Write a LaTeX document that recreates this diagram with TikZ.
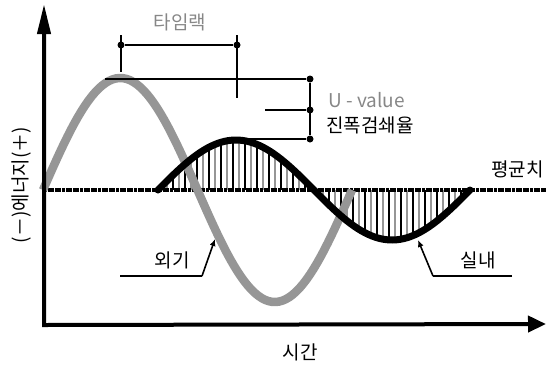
\documentclass[tikz,border=0pt]{standalone}
\usepackage{fontspec}
\newfontfamily\krfont{Noto Sans CJK KR}
\usetikzlibrary{arrows.meta,positioning}
\definecolor{airgray}{RGB}{150,150,150}
\definecolor{textgray}{RGB}{135,135,135}

\tikzset{
  lbl/.style={font=\krfont\fontsize{19}{21}\selectfont,inner sep=1pt},
  dot/.style={circle,fill=black,inner sep=0pt,minimum size=7pt},
  guide/.style={line width=2pt},
  pointer/.style={line width=1.6pt,-{Latex[length=7pt,width=6pt]}},
}

\begin{document}
\begin{tikzpicture}[x=1pt,y=-1pt]
  \useasboundingbox (0,0) rectangle (546,365);

  %% hatching between indoor curve and mean line
  \foreach \i in {0,...,51}{
    \pgfmathsetmacro{\hx}{161+6*\i}
    \pgfmathsetmacro{\hy}{190-50*sin((\hx-158)/312*360)}
    \pgfmathparse{mod(\i,2)==0 ? "black" : "airgray"}
    \edef\hcol{\pgfmathresult}
    \draw[\hcol,line width=1.5pt] (\hx,190) -- (\hx,\hy);
  }

  %% mean line
  \coordinate (mL) at (44,190);
  \coordinate (mR) at (546,190);
  \draw[line width=3.2pt,dash pattern=on 3pt off 0.6pt] (mL) -- (mR);
  \node[lbl,anchor=east] (mean) at (545,169) {평균치};

  %% outdoor (gray) and indoor (black) curves
  \draw[airgray,line width=8.5pt] plot[domain=0:360,samples=90]
        ({43+309/360*\x},{190-112*sin(\x)});
  \draw[line width=7pt,line cap=round] plot[domain=0:360,samples=90]
        ({158+312/360*\x},{190-50*sin(\x)});

  %% axes
  \coordinate (o) at (44,325);
  \coordinate (ytop) at (44,4);
  \coordinate (xend) at (546,324);
  \draw[line width=4pt,{Triangle[length=30pt,width=13pt]}-{Triangle[length=18pt,width=16pt]}]
        (ytop) -- (o) -- (xend);
  \node[lbl] (time) at (300,352) {시간};
  \node[lbl,rotate=90] (energy) at (22,185) {(－)에너지(＋)};

  %% time lag
  \node[dot] (lagL) at (121,45) {};
  \node[dot] (lagR) at (237,45) {};
  \coordinate (lagLb) at (121,72);
  \coordinate (lagRb) at (237,98);
  \draw[guide] (lagL) -- (lagR);
  \draw[guide] (121,35) -- (lagLb);
  \draw[guide] (237,35) -- (lagRb);
  \node[lbl,text=textgray] (lag) at (180,22) {타임랙};

  %% amplitude ratio
  \coordinate (outPk) at (105,79);
  \coordinate (inPk) at (225,139);
  \coordinate (midL) at (265,110);
  \node[dot] (uTop) at (310,79) {};
  \node[dot] (uMid) at (310,110) {};
  \node[dot] (uBot) at (310,139) {};
  \draw[line width=2.6pt] (outPk) -- (uTop);
  \draw[guide] (uTop) -- (uBot);
  \draw[guide] (midL) -- (uMid);
  \draw[guide] (inPk) -- (uBot);
  \node[lbl,anchor=west,text=textgray] (uval) at (327,100) {U - value};
  \node[lbl,anchor=west] (ratio) at (325,125) {진폭검쇄율};

  %% outdoor label
  \coordinate (outA) at (120,276);
  \coordinate (outB) at (202,276);
  \coordinate (outTip) at (215,239);
  \node[lbl] (outdoor) at (172,260) {외기};
  \draw[line width=1.6pt] (outA) -- (outB);
  \draw[pointer] (outB) -- (outTip);

  %% indoor label
  \coordinate (inA) at (512,276);
  \coordinate (inB) at (433,276);
  \coordinate (inTip) at (418,240);
  \node[lbl] (indoor) at (478,260) {실내};
  \draw[line width=1.6pt] (inA) -- (inB);
  \draw[pointer] (inB) -- (inTip);
\end{tikzpicture}
\end{document}
